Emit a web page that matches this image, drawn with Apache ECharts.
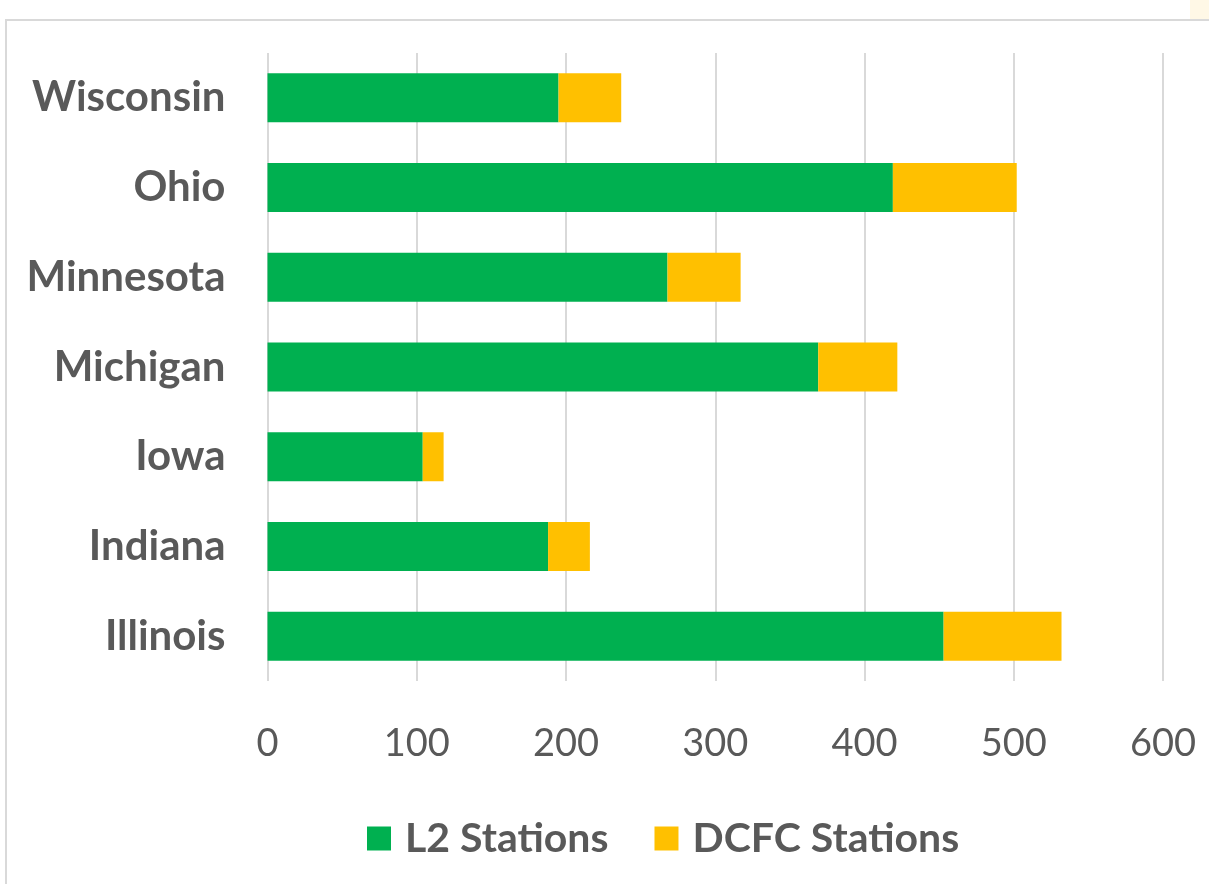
<!DOCTYPE html>
<html>
<head>
<meta charset="utf-8">
<script src="https://cdn.jsdelivr.net/npm/echarts@6/dist/echarts.min.js"></script>
<style>
html,body{margin:0;padding:0;background:#fff;}
#c{width:1209px;height:884px;}
</style>
</head>
<body>
<div id="c"></div>
<script>
const categories = ['Illinois','Indiana','Iowa','Michigan','Minnesota','Ohio','Wisconsin'];
const l2Stations = [453, 188, 104, 369, 268, 419, 195];
const dcfcStations = [79, 28, 14, 53, 49, 83, 42];
const xTicks = [0, 100, 200, 300, 400, 500, 600];

const chart = echarts.init(document.getElementById('c'));
chart.setOption({
  animation: false,
  backgroundColor: '#fff',
  graphic: [
    {type:'rect', shape:{x:6, y:20, width:1220, height:880}, style:{fill:'none', stroke:'#d9d9d9', lineWidth:2}},
    {type:'rect', shape:{x:1190, y:0, width:19, height:19}, style:{fill:'#fff8e6'}}
  ],
  grid: {left: 267.5, right: 46, top: 53, height: 628, containLabel: false},
  legend: {
    bottom: 20,
    left: 362,
    itemWidth: 24,
    itemHeight: 24,
    itemGap: 46,
    icon: 'rect',
    textStyle: {fontFamily: 'Lato', fontSize: 41, fontWeight: 'bold', color: '#595959', padding:[0,0,0,9]},
    data: ['L2 Stations', 'DCFC Stations']
  },
  xAxis: {
    type: 'value',
    min: xTicks[0],
    max: xTicks[xTicks.length-1],
    interval: 100,
    axisLine: {show: false},
    axisTick: {show: false},
    splitLine: {lineStyle: {color: '#d9d9d9', width: 2}},
    axisLabel: {fontFamily: 'Lato', fontSize: 38, color: '#595959', margin: 44}
  },
  yAxis: {
    type: 'category',
    data: categories,
    axisLine: {show: false},
    axisTick: {show: false},
    axisLabel: {fontFamily: 'Lato', fontSize: 42, fontWeight: 'bold', color: '#595959', margin: 42}
  },
  series: [
    {name: 'L2 Stations', type: 'bar', stack: 'total', data: l2Stations, barWidth: 49,
     itemStyle: {color: '#00b050'}},
    {name: 'DCFC Stations', type: 'bar', stack: 'total', data: dcfcStations, barWidth: 49,
     itemStyle: {color: '#ffc000'}}
  ]
});
</script>
</body>
</html>
